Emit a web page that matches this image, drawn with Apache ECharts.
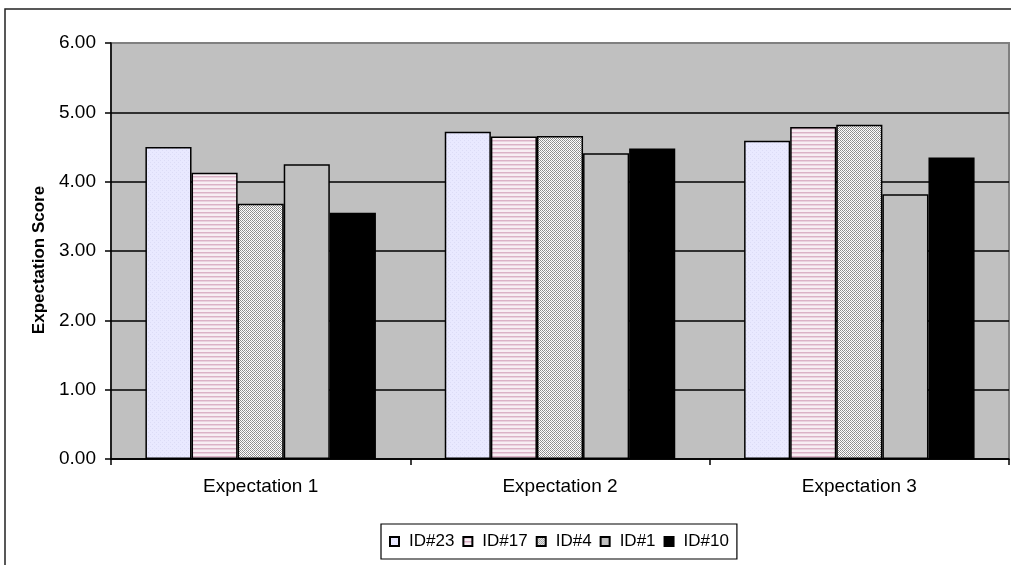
<!DOCTYPE html>
<html>
<head>
<meta charset="utf-8">
<script src="https://cdn.jsdelivr.net/npm/echarts@6/dist/echarts.min.js"></script>
<style>
  html, body { margin: 0; padding: 0; background: #fff; }
  #chart { width: 1011px; height: 565px; }
</style>
</head>
<body>
<div id="chart"></div>
<script>
// Expectation scores per respondent
const categories = ['Expectation 1', 'Expectation 2', 'Expectation 3'];
const seriesNames = ['ID#23', 'ID#17', 'ID#4', 'ID#1', 'ID#10'];
const id23 = [4.50, 4.72, 4.59];
const id17 = [4.13, 4.65, 4.79];
const id4  = [3.68, 4.66, 4.82];
const id1  = [4.25, 4.41, 3.82];
const id10 = [3.55, 4.48, 4.35];
const yTicks = { min: 0, max: 6, step: 1 };

// Small repeating fills, in the style of classic spreadsheet patterns
function makePattern(size, bg, dots) {
  const c = document.createElement('canvas');
  c.width = size; c.height = size;
  const g = c.getContext('2d');
  g.fillStyle = bg;
  g.fillRect(0, 0, size, size);
  dots.forEach(([x, y, w, h, col]) => { g.fillStyle = col; g.fillRect(x, y, w, h); });
  return { image: c, repeat: 'repeat' };
}
const lavenderFill = makePattern(4, '#e9e9ff', [[0, 0, 1, 1, '#dcdcf6'], [2, 2, 1, 1, '#dcdcf6']]);
const pinkStripes = makePattern(4, '#f8eef3', [[0, 0, 4, 1, '#dbb2c6'], [0, 1, 4, 1, '#ead2de']]);
const greyDither = makePattern(4, '#ffffff', [
  [0, 0, 1, 1, '#8c8c8c'], [2, 0, 1, 1, '#8c8c8c'],
  [1, 1, 1, 1, '#8c8c8c'], [3, 1, 1, 1, '#b0b0b0'],
  [0, 2, 1, 1, '#8c8c8c'], [2, 2, 1, 1, '#8c8c8c'],
  [3, 3, 1, 1, '#8c8c8c'], [1, 3, 1, 1, '#b0b0b0']
]);

const fills = [lavenderFill, pinkStripes, greyDither, '#c0c0c0', '#000000'];
const values = [id23, id17, id4, id1, id10];

const FONT = 'Liberation Sans, Arial, sans-serif';

const chart = echarts.init(document.getElementById('chart'), null, { renderer: 'canvas' });

chart.setOption({
  animation: false,
  backgroundColor: '#ffffff',
  graphic: [{
    type: 'rect',
    shape: { x: 5, y: 9, width: 1100, height: 700 },
    style: { fill: 'none', stroke: '#222', lineWidth: 1.5 },
    z: -1
  }],
  grid: {
    left: 111, top: 43, right: 2, bottom: 106,
    show: true,
    backgroundColor: '#c0c0c0',
    borderColor: '#808080',
    borderWidth: 2
  },
  legend: {
    data: seriesNames,
    left: 381, top: 524,
    orient: 'horizontal',
    itemWidth: 9, itemHeight: 9,
    itemGap: 8,
    padding: [9, 8, 9, 8],
    borderColor: '#000', borderWidth: 1.2,
    icon: 'rect',
    textStyle: { fontFamily: FONT, fontSize: 17, color: '#000', padding: [0, 0, 0, 5] }
  },
  xAxis: {
    type: 'category',
    data: categories,
    axisLine: { lineStyle: { color: '#000', width: 1.5 } },
    axisTick: { show: true, length: 6, lineStyle: { color: '#000', width: 1.5 } },
    axisLabel: { fontFamily: FONT, fontSize: 19, color: '#000', margin: 18 },
    splitLine: { show: false }
  },
  yAxis: {
    type: 'value',
    min: yTicks.min, max: yTicks.max, interval: yTicks.step,
    name: 'Expectation Score',
    nameLocation: 'middle',
    nameGap: 58,
    nameTextStyle: { fontFamily: FONT, fontSize: 17, fontWeight: 'bold', color: '#000', padding: [0, 18, 0, 0] },
    axisLine: { show: true, lineStyle: { color: '#000', width: 1.5 } },
    axisTick: { show: true, length: 6, lineStyle: { color: '#000', width: 1.5 } },
    axisLabel: {
      fontFamily: FONT, fontSize: 19, color: '#000', margin: 15,
      formatter: v => v.toFixed(2)
    },
    splitLine: { show: true, showMaxLine: false, lineStyle: { color: '#000', width: 1.5 } }
  },
  series: seriesNames.map((name, i) => ({
    name,
    type: 'bar',
    data: values[i],
    barGap: '0%',
    barCategoryGap: '23%',
    itemStyle: { color: fills[i], borderColor: '#000', borderWidth: 1.5 }
  }))
});
</script>
</body>
</html>
